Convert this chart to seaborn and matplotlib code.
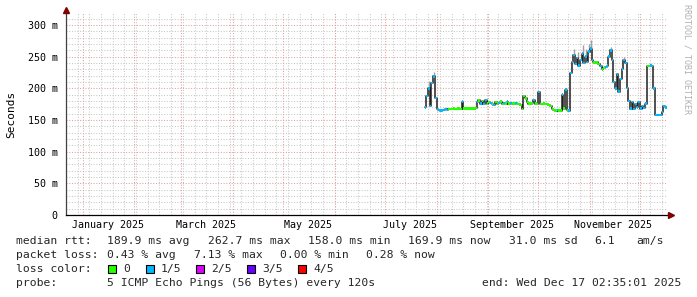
import numpy as np
import pandas as pd
import matplotlib
matplotlib.use("Agg")
import matplotlib.pyplot as plt
import matplotlib.transforms as mtransforms
from matplotlib.patches import Rectangle
import seaborn as sns

# ---------------- data ----------------
start_date = "2025-07-25"
median_ms = [
    170, 188, 200, 172, 208, 219, 185, 167, 166, 165,
    166, 166, 167, 166, 167, 167, 167, 168, 167, 168,
    168, 167, 179, 168, 168, 168, 168, 168, 168, 168,
    169, 178, 181, 176, 180, 175, 182, 176, 178, 177,
    175, 174, 178, 176, 177, 179, 175, 177, 176, 179,
    176, 177, 176, 176, 177, 176, 175, 174, 167, 188,
    184, 179, 176, 176, 177, 182, 176, 175, 194, 175,
    175, 176, 175, 175, 174, 172, 168, 166, 165, 166,
    165, 165, 190, 168, 198, 166, 165, 224, 242, 253,
    238, 248, 236, 245, 255, 240, 250, 242, 258, 262.7,
    245, 241, 240, 241, 238, 235, 230, 232, 234, 236,
    250, 260, 245, 210, 200, 222, 195, 215, 230, 245,
    240, 200, 180, 168, 178, 167, 175, 170, 178, 168,
    172, 169, 176, 235, 235, 236, 235, 200, 158, 158,
    158, 158, 163, 172, 169.9,
]
loss_level = [
    1, 1, 1, 1, 1, 1, 1, 1, 1, 1,
    1, 1, 1, 1, 0, 0, 0, 0, 0, 0,
    0, 0, 1, 0, 0, 0, 0, 0, 0, 0,
    0, 1, 0, 1, 0, 1, 1, 0, 0, 1,
    0, 1, 0, 0, 1, 0, 0, 1, 0, 1,
    0, 1, 0, 0, 1, 0, 0, 0, 0, 0,
    0, 0, 0, 0, 0, 1, 0, 0, 1, 0,
    0, 0, 0, 0, 0, 0, 0, 0, 0, 1,
    0, 0, 1, 0, 1, 0, 1, 1, 1, 1,
    1, 1, 1, 1, 1, 1, 1, 1, 1, 1,
    1, 0, 0, 0, 0, 1, 0, 0, 1, 1,
    1, 1, 1, 1, 1, 1, 1, 1, 1, 1,
    1, 1, 1, 1, 1, 1, 1, 1, 1, 1,
    1, 1, 1, 0, 0, 1, 1, 1, 1, 1,
    1, 1, 1, 1, 1,
]
# a few visible "smoke" spikes (day index from start_date, top in ms)
smoke_day = [2, 5, 89, 91, 94, 96, 98, 99, 111, 119]
smoke_top = [212, 226, 262, 258, 268, 262, 270, 276, 266, 250]

loss_labels = ["0", "1/5", "2/5", "3/5", "4/5"]
loss_colors = ["#26ff00", "#00b8ff", "#dd00ff", "#6a00ff", "#ff0000"]

y_ticks_ms = [0, 50, 100, 150, 200, 250, 300]
y_tick_labels = ["0", "50 m", "100 m", "150 m", "200 m", "250 m", "300 m"]
month_label_dates = ["2025-01-16", "2025-03-16", "2025-05-16", "2025-07-16", "2025-09-15", "2025-11-15"]
month_labels = ["January 2025", "March 2025", "May 2025", "July 2025", "September 2025", "November 2025"]

rtt_stats = ["189.9 ms avg", "262.7 ms max", "158.0 ms min", "169.9 ms now", "31.0 ms sd", "6.1", "am/s"]
loss_stats = ["0.43 % avg", "7.13 % max", "0.00 % min", "0.28 % now"]
probe_text = "5 ICMP Echo Pings (56 Bytes) every 120s"
end_text = "end: Wed Dec 17 02:35:01 2025"
watermark = "RRDTOOL / TOBI OETIKER"

# ---------------- style ----------------
sns.set_style("white")
plt.rcParams["font.family"] = ["DejaVu Sans Mono"]
MONO = "DejaVu Sans Mono"

W, H = 697, 297
fig = plt.figure(figsize=(W / 100, H / 100), dpi=100)
fig.patch.set_facecolor("white")

def fx(px):
    return px / W

def fy(py):
    return 1 - py / H

ax_left, ax_right, ax_top, ax_bot = 66, 667, 13, 215
ax = fig.add_axes([fx(ax_left), fy(ax_bot), (ax_right - ax_left) / W, (ax_bot - ax_top) / H])
ax.set_facecolor("white")

x_end = pd.Timestamp("2025-12-17 02:35:01")
x_start = x_end - pd.Timedelta(days=360)
ax.set_xlim(x_start, x_end)
ax.set_ylim(0, 319)

minor_c = "#c8c8c8"
major_c = "#e3a0a0"
dot = (0, (1.0, 1.6))
for v in range(10, 320, 10):
    if v % 50:
        ax.axhline(v, color=minor_c, lw=0.75, ls=dot, zorder=1)
weeks = pd.date_range("2024-12-22", "2025-12-17", freq="W-SUN")
for d in weeks:
    ax.axvline(d, color=minor_c, lw=0.75, ls=dot, zorder=1)
for v in y_ticks_ms[1:]:
    ax.axhline(v, color=major_c, lw=0.75, ls=dot, zorder=1.5)
months = pd.date_range("2025-01-01", "2025-12-01", freq="MS")
for d in months:
    ax.axvline(d, color=major_c, lw=0.75, ls=dot, zorder=1.5)

# ---------------- data marks ----------------
dates = pd.date_range(start_date, periods=len(median_ms), freq="D")
df = pd.DataFrame({"date": dates, "median": median_ms, "loss": loss_level})

smoke_dates = dates[smoke_day] + pd.Timedelta(hours=12)
smoke_base = [median_ms[i] for i in smoke_day]
ax.vlines(smoke_dates, smoke_base, smoke_top, color="#a0a0a0", lw=1.0, zorder=2)

sns.lineplot(data=df, x="date", y="median", drawstyle="steps-post", color="#202020",
             lw=1.1, estimator=None, ax=ax, zorder=3)
band = 3.8
ax.bar(df["date"], band, bottom=df["median"] - band / 2, width=1.0, align="edge",
       color=[loss_colors[l] for l in df["loss"]], linewidth=0, zorder=4)

ax.set_xlabel("")
ax.set_ylabel("")

# ---------------- axes ----------------
for s in ["top", "right"]:
    ax.spines[s].set_visible(False)
ax.spines["left"].set_color("#404040")
ax.spines["bottom"].set_color("#000000")
ax.spines["left"].set_linewidth(0.9)
ax.spines["bottom"].set_linewidth(0.9)

ax.set_yticks(y_ticks_ms, y_tick_labels)
ax.tick_params(axis="y", which="major", length=3, direction="inout", width=0.7, color="#404040",
               labelsize=7.2, pad=4.5, labelcolor="#000000")
ax.set_yticks([v for v in range(10, 320, 10) if v % 50], minor=True)
ax.tick_params(axis="y", which="minor", length=2, direction="inout", width=0.6, color="#909090")
ax.set_xticks(months)
ax.set_xticklabels([])
ax.set_xticks(weeks, minor=True)
ax.tick_params(axis="x", which="major", length=4, direction="inout", width=0.7, color="#c06060")
ax.tick_params(axis="x", which="minor", length=2, direction="inout", width=0.6, color="#909090")

for d, lab in zip(month_label_dates, month_labels):
    ax.text(pd.Timestamp(d), -(225 - ax_bot) / (ax_bot - ax_top), lab,
            transform=ax.get_xaxis_transform(), ha="center", va="center",
            fontsize=7.2, family=MONO, color="#000000", clip_on=False)

# arrows
tr_up = mtransforms.offset_copy(ax.transAxes, fig=fig, x=0, y=3, units="dots")
ax.plot([0], [1], marker="^", ms=5, color="#7f0000", transform=tr_up, clip_on=False, zorder=6)
tr_rt = mtransforms.offset_copy(ax.transAxes, fig=fig, x=4, y=0, units="dots")
ax.plot([1], [0], marker=">", ms=5, color="#7f0000", transform=tr_rt, clip_on=False, zorder=6)

# y label and watermark
fig.text(fx(11), fy(114), "Seconds", rotation=90, ha="center", va="center",
         fontsize=8, family=MONO, color="#000000")
fig.text(fx(687), fy(4), watermark, rotation=270, ha="center", va="top",
         fontsize=6, family=MONO, color="#b0b0b0")

# ---------------- legend block ----------------
LFS = 8.2
row_y = [241, 255, 269, 283]
fig.text(fx(16), fy(row_y[0]), "median rtt:", fontsize=LFS, family=MONO, va="center")
for xp, t in zip([107, 208, 308, 408, 509, 594, 636], rtt_stats):
    fig.text(fx(xp), fy(row_y[0]), t, fontsize=LFS, family=MONO, va="center")
fig.text(fx(16), fy(row_y[1]), "packet loss:", fontsize=LFS, family=MONO, va="center")
for xp, t in zip([107, 194, 280, 366], loss_stats):
    fig.text(fx(xp), fy(row_y[1]), t, fontsize=LFS, family=MONO, va="center")
fig.text(fx(16), fy(row_y[2]), "loss color:", fontsize=LFS, family=MONO, va="center")
box_x = [108, 146, 196, 247, 298]
for bx, lab, col in zip(box_x, loss_labels, loss_colors):
    fig.add_artist(Rectangle((fx(bx), fy(row_y[2] + 4)), 8 / W, 8 / H, transform=fig.transFigure,
                             facecolor=col, edgecolor="#000000", linewidth=0.8))
    fig.text(fx(bx + 15), fy(row_y[2]), lab, fontsize=LFS, family=MONO, va="center")
fig.text(fx(16), fy(row_y[3]), "probe:", fontsize=LFS, family=MONO, va="center")
fig.text(fx(107), fy(row_y[3]), probe_text, fontsize=LFS, family=MONO, va="center")
fig.text(fx(681), fy(row_y[3]), end_text, fontsize=LFS, family=MONO, va="center", ha="right")

fig.savefig("out.png", dpi=100, facecolor="white")
